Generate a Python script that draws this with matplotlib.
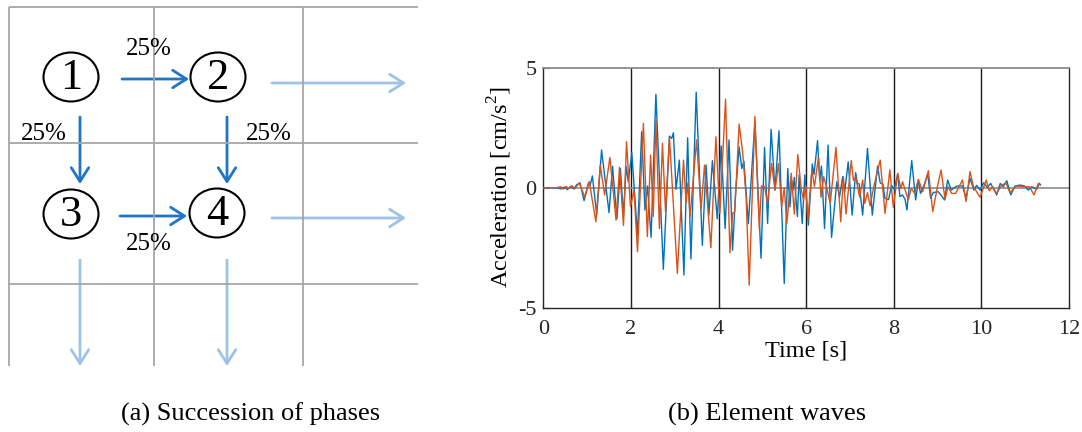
import matplotlib
matplotlib.use("Agg")
import matplotlib.pyplot as plt
from matplotlib.patches import Ellipse, FancyArrowPatch

plt.rcParams['font.family'] = ['Liberation Serif', 'DejaVu Serif']
plt.rcParams['mathtext.fontset'] = 'custom'
plt.rcParams['mathtext.rm'] = 'Liberation Serif'

# ---------------- element wave records (time [s], acceleration [cm/s^2]) ----------------
wave1_time = [0.00, 0.30, 0.40, 0.48, 0.55, 0.62, 0.70, 0.76, 0.84, 0.93, 1.03, 1.07, 1.12,
              1.22, 1.33, 1.50, 1.58, 1.68, 1.76, 1.83, 1.89, 1.94, 2.02, 2.15, 2.245, 2.32,
              2.38, 2.46, 2.57, 2.74, 2.88, 2.93, 2.97, 3.03, 3.105, 3.21, 3.295, 3.37, 3.49,
              3.63, 3.715, 3.78, 3.86, 3.97, 4.06, 4.15, 4.24, 4.32, 4.39, 4.47, 4.53, 4.58,
              4.68, 4.83, 4.97, 5.05, 5.12, 5.20, 5.29, 5.38, 5.50, 5.58, 5.63, 5.67, 5.70,
              5.73, 5.80, 5.84, 5.91, 5.97, 6.05, 6.14, 6.18, 6.26, 6.31, 6.35, 6.42, 6.50,
              6.58, 6.70, 6.76, 6.835, 6.88, 6.96, 7.05, 7.13, 7.17, 7.21, 7.29, 7.40, 7.51,
              7.63, 7.69, 7.75, 7.80, 7.88, 7.95, 8.01, 8.09, 8.14, 8.20, 8.26, 8.30, 8.41,
              8.50, 8.56, 8.61, 8.69, 8.775, 8.84, 8.90, 9.02, 9.16, 9.23, 9.31, 9.44, 9.57,
              9.65, 9.74, 9.83, 9.89, 9.97, 10.05, 10.14, 10.21, 10.27, 10.35, 10.43, 10.50,
              10.58, 10.67, 10.77, 10.88, 10.99, 11.07, 11.15, 11.26, 11.32, 11.35]
wave1_acc = [0.00, 0.00, -0.05, 0.03, -0.08, 0.05, -0.05, 0.12, 0.20, -0.54, 0.20, 0.10, 0.49,
             -1.14, 1.57, -1.04, 0.90, -1.30, 0.80, -1.20, 0.88, 0.25, 1.46, -1.97, 2.33, -0.93,
             0.07, -2.07, 3.89, -3.40, 2.15, 2.05, 2.29, -0.07, 1.15, -3.64, 2.08, -2.97, 3.98,
             -2.40, 0.95, -1.14, 1.13, -1.30, 1.74, -1.70, 1.99, -2.60, -0.20, 1.70, 0.80, 1.10,
             -1.50, 2.75, -2.94, 1.68, -1.49, 2.43, -0.10, 2.37, -3.99, 0.80, -0.80, 0.30, -0.10,
             0.43, -1.20, 0.53, -1.49, 0.53, -1.56, 0.99, 0.55, 1.96, 0.30, 0.90, -1.70, 1.78,
             -2.07, 0.25, -0.40, 0.46, -0.17, 1.08, -1.14, 0.63, 0.18, 0.16, -1.14, 1.64, -1.14,
             0.90, 0.20, 0.15, -0.44, -0.50, 0.10, -0.07, 0.57, -0.37, -0.30, -0.50, -0.93, 1.13,
             -0.51, 0.32, -0.24, 0.10, 0.57, -0.44, -0.20, -0.17, -0.51, 0.32, -0.10, 0.07, 0.07,
             -0.44, 0.39, -0.10, 0.10, -0.10, 0.20, 0.01, 0.18, -0.03, -0.30, 0.18, 0.04,
             0.29, -0.30, 0.07, 0.11, 0.07, -0.10, 0.04, -0.07, 0.18, 0.13]

wave2_time = [0.00, 0.30, 0.40, 0.46, 0.52, 0.58, 0.65, 0.72, 0.82, 0.95, 1.05, 1.20, 1.30,
              1.40, 1.52, 1.66, 1.74, 1.83, 1.90, 1.99, 2.07, 2.15, 2.285, 2.375, 2.45, 2.51,
              2.57, 2.65, 2.72, 2.79, 2.88, 3.06, 3.20, 3.26, 3.30, 3.35, 3.50, 3.60, 3.68,
              3.825, 3.94, 4.03, 4.16, 4.26, 4.32, 4.37, 4.47, 4.55, 4.63, 4.70, 4.83, 4.93,
              4.98, 5.05, 5.12, 5.21, 5.29, 5.37, 5.44, 5.50, 5.56, 5.66, 5.73, 5.81, 5.89,
              5.94, 5.99, 6.04, 6.13, 6.19, 6.28, 6.34, 6.40, 6.47, 6.55, 6.68, 6.79, 6.85,
              6.91, 7.03, 7.08, 7.13, 7.22, 7.29, 7.34, 7.40, 7.46, 7.55, 7.69, 7.80, 7.91,
              7.99, 8.09, 8.16, 8.20, 8.33, 8.40, 8.48, 8.56, 8.66, 8.79, 8.89, 9.00, 9.08,
              9.17, 9.24, 9.32, 9.41, 9.57, 9.65, 9.74, 9.82, 9.97, 10.11, 10.18, 10.26, 10.34,
              10.46, 10.56, 10.65, 10.80, 10.98, 11.10, 11.20, 11.30, 11.34]
wave2_acc = [0.00, 0.00, 0.04, -0.06, 0.05, -0.03, 0.08, -0.04, 0.20, -0.40, 0.25, -1.42, 0.94,
             -0.30, 1.26, -1.35, 0.85, -1.57, 1.92, -0.79, -0.10, -2.67, 2.68, -2.04, 1.36, -1.20,
             2.82, -1.70, 1.85, -1.00, 2.10, -3.57, 1.15, -0.63, 0.20, -1.20, 1.99, -0.90, 0.94,
             -2.50, 2.12, -1.07, 3.69, -2.71, -1.07, -1.00, 2.65, 1.50, -0.40, -4.06, 2.97, -1.70,
             0.07, 0.05, -0.65, 1.01, -0.10, 1.01, -0.80, 0.00, -1.49, 0.60, -1.10, 1.38, -0.10,
             -0.50, 0.10, -1.35, 0.74, 0.05, 1.27, -0.40, 0.46, 0.00, -0.65, 1.68, -1.42, 0.46,
             -1.10, 1.13, 0.30, 0.45, -0.38, 0.32, -0.65, -0.20, -0.76, 0.10, 1.15, -1.07, 0.74,
             -0.82, 0.60, -0.05, 0.25, -0.51, -0.03, -0.24, 0.35, -0.17, 0.71, -1.00, 0.07, 0.74,
             -0.49, 0.04, -0.24, -0.24, 0.32, -0.58, 0.67, 0.04, -0.40, 0.32, -0.13, 0.04, -0.24,
             0.10, 0.20, -0.20, 0.07, 0.04, 0.04, -0.30, 0.18, 0.11]

x_ticks = [0, 2, 4, 6, 8, 10, 12]
y_ticks = [-5, 0, 5]
y_tick_labels = ['-5', '0', '5']

phase_names = ['1', '2', '3', '4']
transition_share = '25%'
caption_a = '(a) Succession of phases'
caption_b = '(b) Element waves'

W, H = 1082, 432
fig = plt.figure(figsize=(W / 100, H / 100), dpi=100)

# ---------------- left panel: phase succession diagram (pixel space) ----------------
dia = fig.add_axes([0, 0, 1, 1])
dia.set_xlim(0, W)
dia.set_ylim(H, 0)
dia.axis('off')

grid_col = '#a6a6a6'
for gx in (9, 154, 303):
    dia.plot([gx, gx], [7, 366], color=grid_col, lw=1.3, solid_capstyle='butt')
for gy in (7, 143, 284):
    dia.plot([9, 418], [gy, gy], color=grid_col, lw=1.3, solid_capstyle='butt')

centers = [(71, 77), (218, 77), (71, 214), (217, 213)]
for (cx, cy), name in zip(centers, phase_names):
    dia.add_patch(Ellipse((cx, cy), 55, 49, fill=False, ec='black', lw=1.5))
    dia.text(cx, cy + 1, name, ha='center', va='center', fontsize=32, color='black')

dark = '#1f74c4'
light = '#9dc3e6'


def arrow(p0, p1, color):
    dia.add_patch(FancyArrowPatch(p0, p1, arrowstyle='->,head_length=0.55,head_width=0.35',
                                  mutation_scale=18, color=color, lw=2.0,
                                  shrinkA=0, shrinkB=0))


arrow((122, 79), (189, 79), dark)
arrow((80, 117), (80, 184), dark)
arrow((227, 117), (227, 184), dark)
arrow((120, 216), (187, 216), dark)
arrow((272, 83), (406, 83), light)
arrow((272, 218), (406, 218), light)
arrow((80, 260), (80, 366), light)
arrow((227, 260), (227, 366), light)

for (tx, ty) in [(149, 49), (44, 134), (269, 134), (149, 244)]:
    dia.text(tx, ty, transition_share, ha='center', va='center', fontsize=18)

dia.text(251, 414, caption_a, ha='center', va='center', fontsize=19)
dia.text(767, 414, caption_b, ha='center', va='center', fontsize=19)

# ---------------- right panel: element waves ----------------
x0, x1 = 543.3, 1069.0
y_top, y_bot = 67.7, 307.7
ax = fig.add_axes([x0 / W, 1 - y_bot / H, (x1 - x0) / W, (y_bot - y_top) / H])

ax.plot(wave1_time, wave1_acc, color='#0072BD', lw=1.0, zorder=3,
        solid_joinstyle='round')
ax.plot(wave2_time, wave2_acc, color='#D95319', lw=1.0, zorder=3,
        solid_joinstyle='round')

ax.axhline(0, color='#8c8c8c', lw=1.2, zorder=2)
for gx in x_ticks[1:-1]:
    ax.axvline(gx, color='#1a1a1a', lw=1.0, zorder=1)

ax.set_xlim(0, 12)
ax.set_ylim(-5, 5)
ax.set_xticks(x_ticks)
ax.set_yticks(y_ticks)
ax.set_yticklabels(y_tick_labels)
ax.tick_params(direction='in', length=4, width=0.8, labelsize=16, colors='#262626')
ax.tick_params(axis='x', pad=9)
ax.tick_params(axis='y', pad=5)

for side in ('left', 'bottom', 'right'):
    ax.spines[side].set_color('#262626')
    ax.spines[side].set_linewidth(1.0)
ax.spines['top'].set_color('#8c8c8c')
ax.spines['top'].set_linewidth(1.3)

ax.set_xlabel('Time [s]', fontsize=17.5, labelpad=1)
ax.set_ylabel('Acceleration [cm/s$^2$]', fontsize=17.5, labelpad=3)

fig.savefig('out.png', dpi=100)
